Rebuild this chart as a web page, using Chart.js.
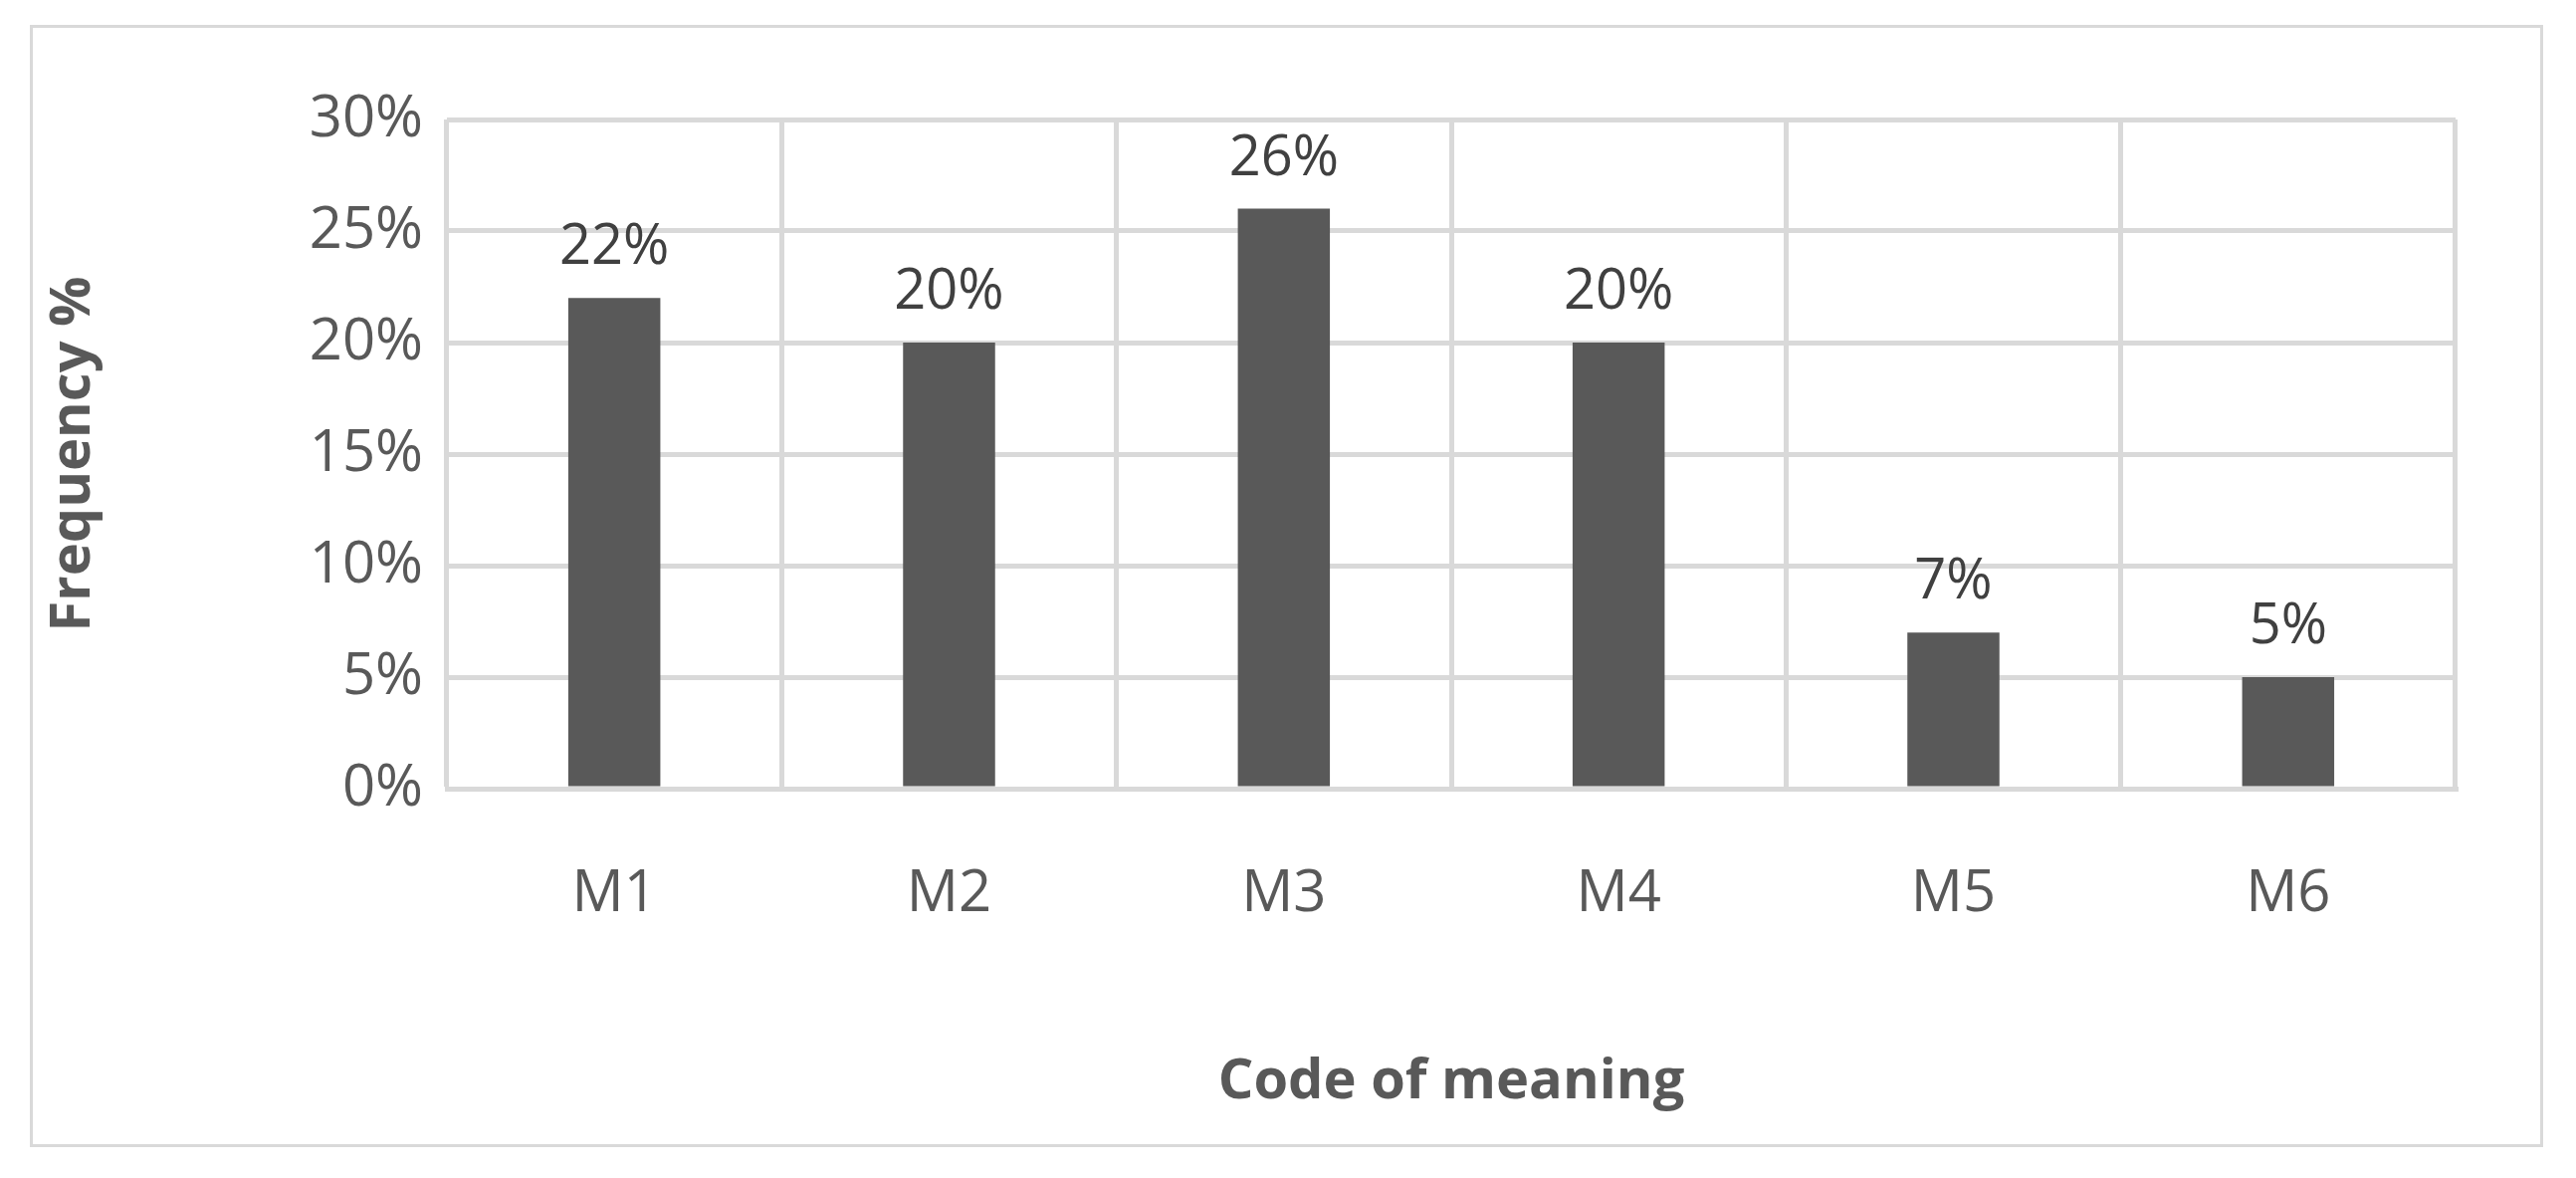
<!DOCTYPE html>
<html>
<head>
<meta charset="utf-8">
<script src="https://cdn.jsdelivr.net/npm/chart.js@4/dist/chart.umd.min.js"></script>
<style>
  html, body { margin: 0; padding: 0; background: #fff; }
  #frame { position: absolute; left: 30px; top: 25px; width: 2519px; height: 1121px; border: 3px solid #d9d9d9; }
  canvas { position: absolute; left: 0; top: 0; }
</style>
</head>
<body>
<div id="frame"></div>
<canvas id="chart" width="2588" height="1183"></canvas>
<script>
const categories = ["M1", "M2", "M3", "M4", "M5", "M6"];
const frequency = [22, 20, 26, 20, 7, 5];
const yTicks = [0, 5, 10, 15, 20, 25, 30];

const FONT = "'Open Sans', 'Liberation Sans', sans-serif";

// value labels above each bar
const barLabels = {
  id: "barLabels",
  afterDatasetsDraw(chart) {
    const ctx = chart.ctx;
    const meta = chart.getDatasetMeta(0);
    ctx.save();
    ctx.fillStyle = "#404040";
    ctx.font = `56px ${FONT}`;
    ctx.textAlign = "center";
    ctx.textBaseline = "bottom";
    meta.data.forEach((bar, i) => {
      ctx.fillText(frequency[i] + "%", bar.x, bar.y - 22);
    });
    ctx.restore();
  }
};

new Chart(document.getElementById("chart"), {
  type: "bar",
  data: {
    labels: categories,
    datasets: [{
      data: frequency,
      backgroundColor: "#595959",
      barPercentage: 0.275,
      categoryPercentage: 1
    }]
  },
  options: {
    responsive: false,
    devicePixelRatio: 1,
    animation: false,
    layout: { padding: { left: 40, right: 121, top: 120, bottom: 0 } },
    plugins: { legend: { display: false }, tooltip: { enabled: false } },
    scales: {
      x: {
        grid: { color: "#d9d9d9", lineWidth: 5, drawTicks: false, offset: true },
        border: { color: "#d9d9d9", width: 5 },
        ticks: { color: "#595959", font: { family: FONT, size: 58 }, padding: 72 },
        title: {
          display: true, text: "Code of meaning", color: "#595959",
          font: { family: FONT, size: 56, weight: "bold" },
          padding: { top: 0, bottom: 62 }
        },
        afterFit(axis) { axis.height = 391; }
      },
      y: {
        min: 0, max: 30,
        afterBuildTicks(axis) { axis.ticks = yTicks.map(v => ({ value: v })); },
        grid: { color: "#d9d9d9", lineWidth: 5, drawTicks: false },
        border: { display: false },
        ticks: {
          color: "#595959", font: { family: FONT, size: 58 }, padding: 24,
          callback: v => v + "%"
        },
        title: {
          display: true, text: "Frequency %", color: "#595959",
          font: { family: FONT, size: 56, weight: "bold" },
          padding: { top: 0, bottom: 0 }
        },
        afterFit(axis) { axis.width = 449 - 40; }
      }
    }
  },
  plugins: [barLabels]
});
</script>
</body>
</html>
